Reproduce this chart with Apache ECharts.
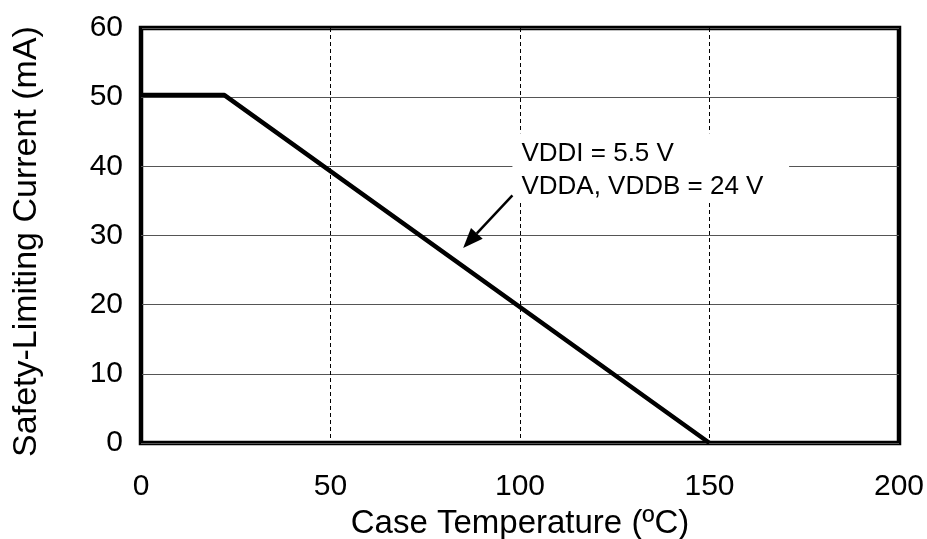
<!DOCTYPE html>
<html>
<head>
<meta charset="utf-8">
<script src="https://cdn.jsdelivr.net/npm/echarts@6/dist/echarts.min.js"></script>
<style>
  html, body { margin: 0; padding: 0; background: #fff; }
  #chart { width: 927px; height: 539px; }
</style>
</head>
<body>
<div id="chart"></div>
<script>
// derating curve: case temperature (C) vs safety-limiting current (mA)
var temps = [0, 22, 150];
var currents = [50.3, 50.3, 0];
var xTicks = [0, 50, 100, 150, 200];
var yTicks = [0, 10, 20, 30, 40, 50, 60];
var noteLines = ['VDDI = 5.5 V', 'VDDA, VDDB = 24 V'];
// arrow from label to curve, in data units
var arrowFrom = [98, 35.8];
var arrowTo = [85, 28.2];

var font = '"Liberation Sans", Arial, sans-serif';
var myChart = echarts.init(document.getElementById('chart'));

var pts = temps.map(function (t, i) { return [t, currents[i]]; });

var option = {
  animation: false,
  grid: {
    left: 141, top: 28, right: 28, bottom: 96,
    outerBoundsMode: 'none', containLabel: false,
    show: true, borderColor: '#000', borderWidth: 4.5, backgroundColor: 'transparent'
  },
  xAxis: {
    type: 'value', min: xTicks[0], max: xTicks[xTicks.length - 1], interval: 50,
    name: 'Case Temperature (ºC)', nameLocation: 'middle', nameGap: 64,
    nameTextStyle: { fontFamily: font, fontSize: 33, color: '#000' },
    axisLine: { show: false }, axisTick: { show: false },
    axisLabel: { fontFamily: font, fontSize: 30, color: '#000', margin: 29 },
    splitLine: { show: true, lineStyle: { color: '#000', width: 1, type: [4, 3] } }
  },
  yAxis: {
    type: 'value', min: yTicks[0], max: yTicks[yTicks.length - 1], interval: 10,
    name: 'Safety-Limiting Current (mA)', nameLocation: 'middle', nameGap: 97,
    nameTextStyle: { fontFamily: font, fontSize: 34, color: '#000', padding: [0, 12, 0, 0] },
    axisLine: { show: false }, axisTick: { show: false },
    axisLabel: { fontFamily: font, fontSize: 30, color: '#000', margin: 18 },
    splitLine: { show: true, lineStyle: { color: '#555', width: 1 } }
  },
  series: [{
    type: 'line',
    data: pts,
    symbol: 'none',
    lineStyle: { color: '#000', width: 4.5 },
    z: 5
  }]
};
myChart.setOption(option);

// annotation: white box over the grid, text, and arrow
var tl = myChart.convertToPixel({ gridIndex: 0 }, [98, 44.8]);
var br = myChart.convertToPixel({ gridIndex: 0 }, [171, 34.8]);
var a0 = myChart.convertToPixel({ gridIndex: 0 }, arrowFrom);
var a1 = myChart.convertToPixel({ gridIndex: 0 }, arrowTo);
var ang = Math.atan2(a1[1] - a0[1], a1[0] - a0[0]);
var headLen = 20, headW = 8;
var tip = a1;
var baseX = tip[0] - headLen * Math.cos(ang), baseY = tip[1] - headLen * Math.sin(ang);
var nx = -Math.sin(ang), ny = Math.cos(ang);

myChart.setOption({
  graphic: [
    {
      type: 'rect', z: 10,
      shape: { x: tl[0], y: tl[1], width: br[0] - tl[0], height: br[1] - tl[1] },
      style: { fill: '#fff' }
    },
    {
      type: 'text', z: 11,
      x: tl[0] + 9, y: tl[1] + 4,
      style: {
        text: noteLines.join('\n'), fontFamily: font, fontSize: 26,
        lineHeight: 33, fill: '#000'
      }
    },
    {
      type: 'line', z: 11,
      shape: { x1: a0[0], y1: a0[1], x2: baseX, y2: baseY },
      style: { stroke: '#000', lineWidth: 2.5 }
    },
    {
      type: 'polygon', z: 11,
      shape: { points: [tip, [baseX + nx * headW, baseY + ny * headW], [baseX - nx * headW, baseY - ny * headW]] },
      style: { fill: '#000' }
    }
  ]
});
</script>
</body>
</html>
